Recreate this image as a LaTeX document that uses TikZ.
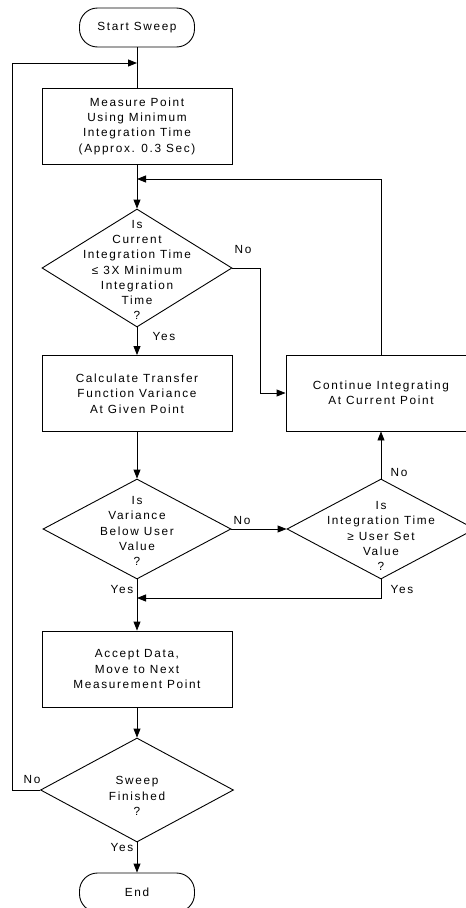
\documentclass[tikz,border=0pt]{standalone}
\usepackage{fontspec}
\setmainfont{Liberation Sans}[LetterSpace=14]
\usetikzlibrary{shapes.geometric,arrows.meta}

\begin{document}
\begin{tikzpicture}[x=1pt,y=-1pt,
  font=\fontsize{11.8}{15.3}\selectfont,
  line width=0.9pt,
  arr/.style={-{Triangle[length=9pt,width=7pt]}},
  box/.style={draw, minimum width=190pt, minimum height=76pt, align=center, inner sep=0pt},
  term/.style={draw, rounded corners=18pt, minimum width=115pt, minimum height=39pt, inner sep=0pt},
  dia/.style={draw, diamond, inner sep=0pt},
  txt/.style={align=center, inner sep=0pt},
  lbl/.style={inner sep=0pt}
]
\useasboundingbox (0,0) rectangle (466,908);
\clip (0,0) rectangle (466,908);

% main column
\node[term] (start) at (137,27.5) {Start Sweep};
\node[box] (measure) at (137,126) {Measure Point\\Using Minimum\\Integration Time\\(Approx. 0.3 Sec)};
\node[dia, minimum width=190pt, minimum height=118pt] (d1) at (137,268) {};
\node[txt] (d1t) at (137,270) {Is\\Current\\Integration Time\\≤ 3X Minimum\\Integration\\Time\\?};
\node[box] (calc) at (137,393.5) {Calculate Transfer\\Function Variance\\At Given Point};
\node[dia, minimum width=188pt, minimum height=100pt] (d2) at (137,529) {};
\node[txt] (d2t) at (137,531) {Is\\Variance\\Below User\\Value\\?};
\node[box] (accept) at (137,669) {Accept Data,\\Move to Next\\Measurement Point};
\node[dia, minimum width=193pt, minimum height=104pt] (d4) at (137,790) {};
\node[txt] (d4t) at (137,796) {Sweep\\Finished\\?};
\node[term] (end) at (137,892.5) {End};

% right column
\node[box] (cont) at (381,393) {Continue Integrating\\At Current Point};
\node[dia, minimum width=188pt, minimum height=100pt] (d3) at (381,529) {};
\node[txt] (d3t) at (381,536) {Is\\Integration Time\\≥ User Set\\Value\\?};

% junction points on the main line
\coordinate (loopin) at (137,63);
\coordinate (backin) at (137,179);
\coordinate (join) at (137,598);

% connectors
\draw (start) -- (measure);
\draw[arr] (measure) -- (d1.north);
\draw[arr] (d1.south) -- (calc.north);
\draw[arr] (d1.east) -- ++(28,0) |- (cont.west);
\draw[arr] (cont.north) |- (backin);
\draw[arr] (calc.south) -- (d2.north);
\draw[arr] (d2.east) -- (d3.west);
\draw[arr] (d3.north) -- (cont.south);
\draw[arr] (d3.south) |- (join);
\draw[arr] (d2.south) -- (accept.north);
\draw[arr] (accept.south) -- (d4.north);
\draw[arr] (d4.south) -- (end.north);
\draw[arr] (d4.west) -- ++(-28,0) |- (loopin);

% branch labels
\node[lbl] (n1) at (243,249) {No};
\node[lbl] (y1) at (164,336) {Yes};
\node[lbl] (n2) at (242,520) {No};
\node[lbl] (n3) at (399,472) {No};
\node[lbl] (y3) at (402,589) {Yes};
\node[lbl] (y2) at (122,589) {Yes};
\node[lbl] (n4) at (32,779) {No};
\node[lbl] (y4) at (122,847) {Yes};
\end{tikzpicture}
\end{document}
